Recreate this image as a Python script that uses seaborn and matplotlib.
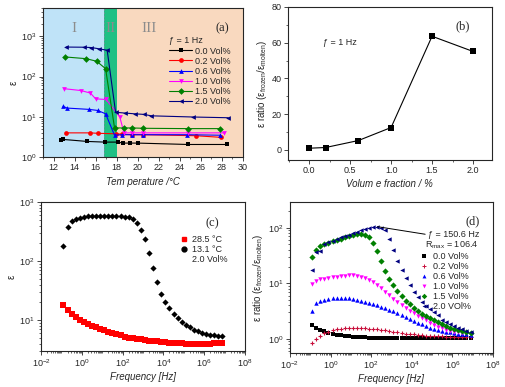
import numpy as np
import pandas as pd
import seaborn as sns
import matplotlib.pyplot as plt
from matplotlib.lines import Line2D
from matplotlib.ticker import LogLocator, MultipleLocator, NullFormatter

sns.set_style("ticks")
plt.rcParams['font.family'] = ['Liberation Sans', 'DejaVu Sans']
plt.rcParams['mathtext.fontset'] = 'custom'
plt.rcParams['mathtext.rm'] = 'Liberation Sans'
plt.rcParams['mathtext.it'] = 'Liberation Sans:italic'
plt.rcParams['axes.linewidth'] = 0.8
plt.rcParams['xtick.direction'] = 'out'
plt.rcParams['ytick.direction'] = 'out'

# ---------- (a) permittivity vs temperature, f = 1 Hz ----------
vol_labels = ["0.0 Vol%", "0.2 Vol%", "0.6 Vol%", "1.0 Vol%", "1.5 Vol%", "2.0 Vol%"]
colors = ["black", "#ff0000", "#0000ff", "#ff00ff", "#008000", "#000080"]
markers_a = ["s", "o", "^", "v", "D", "<"]

temp_00 = [12.7, 12.9, 15.2, 16.85, 18.1, 18.6, 19.3, 20.0, 24.8, 28.5]
eps_00 = [2.6, 2.75, 2.45, 2.36, 2.36, 2.23, 2.23, 2.23, 2.06, 2.06]
temp_02 = [13.2, 15.5, 16.2, 17.9, 18.5, 19.5, 20.5, 25.5, 27.9]
eps_02 = [4.0, 4.0, 3.9, 3.8, 3.7, 3.6, 3.6, 3.4, 3.1]
temp_06 = [12.9, 13.3, 15.4, 16.2, 16.95, 17.8, 18.5, 19.5, 20.5, 24.7, 27.8]
eps_06 = [18.2, 16.5, 15.3, 14.4, 11.9, 3.5, 3.6, 3.6, 3.6, 3.6, 3.5]
temp_10 = [13.0, 14.6, 15.5, 16.0, 17.0, 18.3, 18.7, 19.5, 20.5, 24.8, 28.2]
eps_10 = [50, 45, 39, 28, 27, 9.9, 4.0, 4.0, 4.0, 4.0, 4.0]
temp_15 = [13.1, 15.1, 16.1, 16.95, 17.8, 18.7, 19.5, 20.5, 24.8, 27.8]
eps_15 = [307, 278, 240, 157, 5.3, 5.3, 5.3, 5.2, 5.1, 5.1]
temp_20 = [13.2, 14.9, 15.6, 16.3, 17.1, 17.9, 18.8, 19.7, 20.6, 21.3, 25.3, 28.6]
eps_20 = [540, 535, 525, 490, 450, 13, 12.4, 11.9, 11.5, 10.6, 9.9, 9.5]

# ---------- (b) ratio vs volume fraction ----------
vol_fraction = [0.0, 0.2, 0.6, 1.0, 1.5, 2.0]
ratio_1hz = [0.9, 1.3, 5.2, 12.5, 63.6, 55.1]

# ---------- (c), (d) frequency sweeps ----------
freq_hz = [0.126, 0.2, 0.316, 0.501, 0.794, 1.26, 2.0, 3.16, 5.01, 7.94,
           12.6, 20.0, 31.6, 50.1, 79.4, 126, 200, 316, 501, 794,
           1.26e3, 2.0e3, 3.16e3, 5.01e3, 7.94e3, 1.26e4, 2.0e4, 3.16e4, 5.01e4, 7.94e4,
           1.26e5, 2.0e5, 3.16e5, 5.01e5, 7.94e5, 1.26e6, 2.0e6, 3.16e6, 5.01e6, 7.94e6]

eps_13c = [178, 380, 468, 513, 537, 556, 569, 575, 575, 575,
           575, 575, 575, 575, 572, 568, 560, 525, 447, 339,
           240, 138, 76, 44, 28.2, 20.4, 15.8, 12.6, 10.7, 9.3,
           8.3, 7.6, 6.9, 6.5, 6.1, 5.8, 5.6, 5.5, 5.4, 5.4]
eps_28c = [17.8, 15.1, 12.9, 11.5, 10.2, 9.3, 8.7, 8.1, 7.6, 7.1,
           6.8, 6.3, 6.0, 5.75, 5.5, 5.25, 5.0, 4.9, 4.8, 4.7,
           4.6, 4.5, 4.4, 4.35, 4.25, 4.2, 4.15, 4.1, 4.05, 4.05,
           4.0, 3.95, 3.95, 3.95, 3.95, 3.95, 4.0, 4.05, 4.1, 4.15]

ratio_00 = [1.78, 1.6, 1.47, 1.38, 1.3, 1.24, 1.2, 1.16, 1.13, 1.11,
            1.09, 1.08, 1.07, 1.07, 1.06, 1.06, 1.06, 1.05, 1.05, 1.05,
            1.05, 1.05, 1.05, 1.05, 1.05, 1.05, 1.05, 1.05, 1.05, 1.05,
            1.04, 1.04, 1.04, 1.04, 1.04, 1.04, 1.04, 1.04, 1.04, 1.04]
ratio_02 = [0.85, 1.0, 1.15, 1.27, 1.36, 1.43, 1.48, 1.52, 1.55, 1.57,
            1.58, 1.58, 1.57, 1.55, 1.53, 1.5, 1.48, 1.45, 1.42, 1.38,
            1.35, 1.31, 1.28, 1.25, 1.23, 1.21, 1.19, 1.17, 1.15, 1.14,
            1.13, 1.12, 1.11, 1.1, 1.09, 1.09, 1.08, 1.08, 1.08, 1.08]
ratio_06 = [3.2, 4.4, 4.8, 5.1, 5.3, 5.45, 5.55, 5.55, 5.45, 5.35,
            5.15, 4.95, 4.8, 4.65, 4.45, 4.25, 4.05, 3.8, 3.6, 3.35,
            3.15, 2.95, 2.7, 2.5, 2.3, 2.1, 1.95, 1.82, 1.7, 1.6,
            1.52, 1.45, 1.39, 1.35, 1.31, 1.28, 1.25, 1.23, 1.21, 1.2]
ratio_10 = [9.7, 11.1, 11.8, 12.2, 12.6, 12.9, 13.2, 13.5, 13.8, 13.9,
            14.0, 13.7, 13.2, 12.5, 11.5, 10.5, 9.3, 8.2, 7.0, 6.1,
            5.3, 4.6, 4.0, 3.6, 3.2, 2.9, 2.6, 2.35, 2.15, 1.95,
            1.8, 1.66, 1.55, 1.47, 1.41, 1.36, 1.32, 1.29, 1.26, 1.24]
ratio_15 = [30, 40, 47, 51, 54, 57, 60, 64, 67, 71,
            74, 76, 77, 75, 67, 53, 38, 25, 17, 12.2,
            9.5, 7.3, 5.9, 4.9, 4.2, 3.65, 3.2, 2.85, 2.6, 2.4,
            2.2, 2.0, 1.85, 1.72, 1.6, 1.5, 1.43, 1.38, 1.33, 1.3]
ratio_20 = [17.4, 37, 38, 50, 55, 58, 63, 67, 71, 75,
            80, 85, 90, 94, 98, 105, 104, 100, 90, 62,
            40, 25, 17.5, 12.5, 9.3, 7.1, 5.6, 4.6, 3.9, 3.4,
            3.0, 2.7, 2.2, 2.0, 1.85, 1.7, 1.58, 1.48, 1.4, 1.35]
f_peak, r_peak = 150.6, 106.4

fig = plt.figure(figsize=(5.06, 3.87), dpi=100)
ax_a = fig.add_axes([0.085, 0.594, 0.395, 0.385])
ax_b = fig.add_axes([0.569, 0.587, 0.403, 0.395])
ax_c = fig.add_axes([0.081, 0.093, 0.403, 0.385])
ax_d = fig.add_axes([0.573, 0.088, 0.401, 0.390])

fs = 6.5
for ax in [ax_a, ax_b, ax_c, ax_d]:
    ax.tick_params(labelsize=fs, length=3, width=0.6, pad=1.5)
    ax.tick_params(which='minor', length=1.6, width=0.5)

# ----- (a)
ax_a.axvspan(11, 16.82, color="#bfe3f8", lw=0, zorder=0)
ax_a.axvspan(16.82, 18.0, color="#1fc084", lw=0, zorder=0)
ax_a.axvspan(18.0, 30, color="#f9d9bf", lw=0, zorder=0)
ax_a.axvline(16.82, color="#7a8a9a", lw=0.6, ls=(0, (2, 2)), zorder=0.5)
series_a = [(temp_00, eps_00), (temp_02, eps_02), (temp_06, eps_06),
            (temp_10, eps_10), (temp_15, eps_15), (temp_20, eps_20)]
handles_a = []
for (t, e), lab, c, m in zip(series_a, vol_labels, colors, markers_a):
    df = pd.DataFrame({"T": t, "eps": e})
    sns.lineplot(data=df, x="T", y="eps", ax=ax_a, color=c, marker=m, markersize=3.4,
                 markeredgewidth=0, lw=0.8, estimator=None, sort=False)
    handles_a.append(Line2D([], [], color=c, marker=m, markersize=3.4, markeredgewidth=0, lw=0.8))
ax_a.set_yscale("log")
ax_a.set_xlim(11, 30)
ax_a.set_ylim(1, 5000)
ax_a.xaxis.set_major_locator(MultipleLocator(2))
ax_a.xaxis.set_minor_locator(MultipleLocator(1))
ax_a.yaxis.set_major_locator(LogLocator(base=10, numticks=10))
ax_a.yaxis.set_minor_locator(LogLocator(base=10, subs=np.arange(2, 10), numticks=20))
ax_a.yaxis.set_minor_formatter(NullFormatter())
ax_a.set_xlabel("Tem perature /°C", fontsize=7, style="italic", labelpad=3)
ax_a.set_ylabel("ε", fontsize=7, labelpad=2)
for txt, xpos in [("I", 13.9), ("II", 17.45), ("III", 21.1)]:
    ax_a.text(xpos, 1550, txt, family="Liberation Serif", fontsize=11, color="#8c8c8c",
              ha="center", va="center")
ax_a.text(28.0, 1550, "(a)", family="Liberation Serif", fontsize=9, ha="center", va="center")
leg = ax_a.legend(handles_a, vol_labels, title="ƒ = 1 Hz", loc="upper left",
                  bbox_to_anchor=(0.63, 0.81), frameon=False, fontsize=fs,
                  title_fontsize=fs, handlelength=2.6, handletextpad=0.3,
                  labelspacing=0.12, borderpad=0, borderaxespad=0)
leg._legend_box.align = "left"

# ----- (b)
df_b = pd.DataFrame({"vol": vol_fraction, "ratio": ratio_1hz})
sns.lineplot(data=df_b, x="vol", y="ratio", ax=ax_b, color="black", marker="s",
             markersize=4, markeredgewidth=0, lw=0.8, estimator=None)
ax_b.set_xlim(-0.26, 2.23)
ax_b.set_ylim(-5.6, 80)
ax_b.xaxis.set_major_locator(MultipleLocator(0.5))
ax_b.xaxis.set_minor_locator(MultipleLocator(0.25))
ax_b.yaxis.set_major_locator(MultipleLocator(20))
ax_b.yaxis.set_minor_locator(MultipleLocator(10))
ax_b.set_xlabel("Volum e fraction / %", fontsize=7, style="italic", labelpad=3)
ax_b.set_ylabel("ε ratio (ε$_{\\mathrm{frozen}}$/ε$_{\\mathrm{molten}}$)", fontsize=7, labelpad=2)
ax_b.text(0.17, 60, "ƒ = 1 Hz", fontsize=fs, ha="left", va="center")
ax_b.text(1.88, 69, "(b)", family="Liberation Serif", fontsize=9, ha="center", va="center")

# ----- (c)
df_c = pd.DataFrame({"f": freq_hz * 2, "eps": eps_28c + eps_13c,
                     "T": ["28.5 °C"] * len(freq_hz) + ["13.1 °C"] * len(freq_hz)})
sns.scatterplot(data=df_c[df_c["T"] == "28.5 °C"], x="f", y="eps", ax=ax_c, color="#ff0000",
                marker="s", s=13, linewidth=0, legend=False)
sns.scatterplot(data=df_c[df_c["T"] == "13.1 °C"], x="f", y="eps", ax=ax_c, color="black",
                marker="D", s=10, linewidth=0, legend=False)
ax_c.set_xscale("log")
ax_c.set_yscale("log")
ax_c.set_xlim(1e-2, 1e8)
ax_c.set_ylim(3, 1000)
ax_c.set_xticks([1e-2, 1, 1e2, 1e4, 1e6, 1e8])
ax_c.xaxis.set_minor_locator(LogLocator(base=10, subs=np.arange(1, 10), numticks=30))
ax_c.xaxis.set_minor_formatter(NullFormatter())
ax_c.yaxis.set_major_locator(LogLocator(base=10, numticks=10))
ax_c.yaxis.set_minor_locator(LogLocator(base=10, subs=np.arange(2, 10), numticks=20))
ax_c.yaxis.set_minor_formatter(NullFormatter())
ax_c.set_xlabel("Frequency [Hz]", fontsize=7, style="italic", labelpad=2)
ax_c.set_ylabel("ε", fontsize=7, labelpad=2)
ax_c.text(0.84, 0.86, "(c)", transform=ax_c.transAxes, family="Liberation Serif",
          fontsize=9, ha="center", va="center")
h_c = [Line2D([], [], ls="", marker="s", color="#ff0000", markersize=3.5),
       Line2D([], [], ls="", marker="o", color="black", markersize=3.5),
       Line2D([], [], ls="", marker="")]
ax_c.legend(h_c, ["28.5 °C", "13.1 °C", "2.0 Vol%"], loc="upper left",
            bbox_to_anchor=(0.68, 0.78), frameon=False, fontsize=fs,
            handlelength=1.0, handletextpad=0.4, labelspacing=0.1, borderpad=0, borderaxespad=0)

# ----- (d)
series_d = [ratio_00, ratio_02, ratio_06, ratio_10, ratio_15, ratio_20]
colors_d = ["black", "#c8103c", "#0000ff", "#ff00ff", "#008000", "#000080"]
markers_d = ["s", "+", "^", "v", "D", "<"]
labels_d = ["0.0 Vol%", "0.2 Vol%", "0.6 Vol%", "1.0 Vol%", "1.5 Vol%", "2.0 VOl%"]
handles_d = []
for r, c, m in zip(series_d, colors_d, markers_d):
    df = pd.DataFrame({"f": freq_hz, "ratio": r})
    if m == "+":
        sns.scatterplot(data=df, x="f", y="ratio", ax=ax_d, color=c, marker=m, s=10,
                        linewidth=0.8, legend=False)
    else:
        sns.scatterplot(data=df, x="f", y="ratio", ax=ax_d, color=c, marker=m, s=10,
                        linewidth=0, legend=False)
    handles_d.append(Line2D([], [], ls="", color=c, marker=m, markersize=2.8,
                            markeredgewidth=0.7 if m == "+" else 0))
ax_d.set_xscale("log")
ax_d.set_yscale("log")
ax_d.set_xlim(1e-2, 1e8)
ax_d.set_ylim(0.56, 290)
ax_d.set_xticks([1e-2, 1, 1e2, 1e4, 1e6, 1e8])
ax_d.xaxis.set_minor_locator(LogLocator(base=10, subs=np.arange(1, 10), numticks=30))
ax_d.xaxis.set_minor_formatter(NullFormatter())
ax_d.yaxis.set_major_locator(LogLocator(base=10, numticks=10))
ax_d.yaxis.set_minor_locator(LogLocator(base=10, subs=np.arange(2, 10), numticks=20))
ax_d.yaxis.set_minor_formatter(NullFormatter())
ax_d.set_xlabel("Frequency [Hz]", fontsize=7, style="italic", labelpad=2)
ax_d.set_ylabel("ε ratio (ε$_{\\mathrm{frozen}}$/ε$_{\\mathrm{molten}}$)", fontsize=7, labelpad=2)
ax_d.annotate("", xy=(f_peak, r_peak), xytext=(6.3e4, 75),
              arrowprops=dict(arrowstyle="-", color="black", lw=0.7))
ax_d.text(6.5e4, 75, "ƒ = 150.6 Hz", fontsize=fs, ha="left", va="center")
ax_d.text(4.5e4, 48, "R$_{\\mathrm{max}}$ = 106.4", fontsize=fs, ha="left", va="center")
ax_d.text(0.90, 0.87, "(d)", transform=ax_d.transAxes, family="Liberation Serif",
          fontsize=9, ha="center", va="center")
ax_d.legend(handles_d, labels_d, loc="upper left", bbox_to_anchor=(0.64, 0.67),
            frameon=False, fontsize=fs, handlelength=1.0, handletextpad=0.5,
            labelspacing=0.12, borderpad=0, borderaxespad=0)

fig.savefig("out.png", dpi=100)
